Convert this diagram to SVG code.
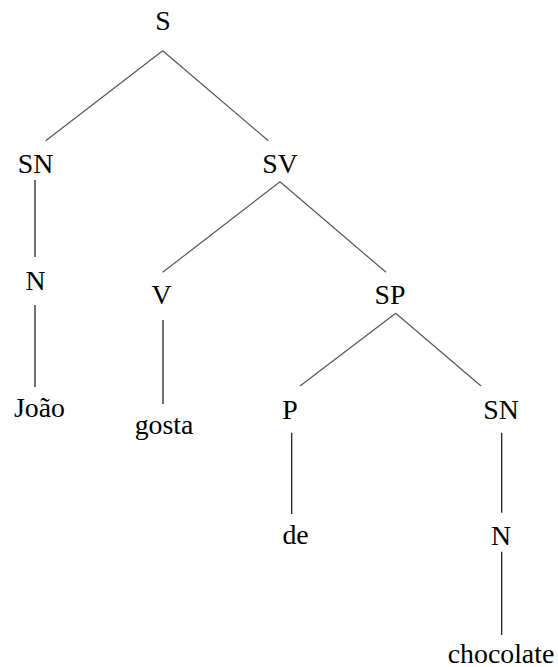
<svg xmlns="http://www.w3.org/2000/svg" width="558" height="667" viewBox="0 0 558 667">
  <style>
    .lbl { font-family: "Liberation Serif", "Times New Roman", serif; font-size: 26.5px; fill: #000; text-anchor: middle; }
    .diag { stroke: #555; stroke-width: 1.2; fill: none; }
    .vert { stroke: #111; stroke-width: 1.2; fill: none; }
  </style>
  <rect width="558" height="667" fill="#fff"/>

  <!-- tree branches -->
  <g id="edges">
    <line class="diag" x1="162.7" y1="50.7" x2="45.7" y2="140.7"/>
    <line class="diag" x1="162.7" y1="50.7" x2="268.3" y2="140.7"/>
    <line class="vert" x1="35" y1="180" x2="35" y2="257"/>
    <line class="vert" x1="35" y1="305" x2="35" y2="387"/>
    <line class="diag" x1="280" y1="181.7" x2="162.7" y2="272.3"/>
    <line class="diag" x1="280" y1="181.7" x2="386" y2="272.3"/>
    <line class="vert" x1="163" y1="320" x2="163" y2="404"/>
    <line class="diag" x1="395.7" y1="313.3" x2="300" y2="386"/>
    <line class="diag" x1="395.7" y1="313.3" x2="481" y2="386"/>
    <line class="vert" x1="291.7" y1="432.7" x2="291.7" y2="514"/>
    <line class="vert" x1="501.7" y1="432.7" x2="501.7" y2="512.7"/>
    <line class="vert" x1="501.7" y1="551.7" x2="501.7" y2="635"/>
  </g>

  <!-- constituent labels (glyphs slightly widened) -->
  <g id="S"><text class="lbl" transform="matrix(1.05 0 0 1 163 30)">S</text></g>
  <g id="SN1"><text class="lbl" transform="matrix(1.05 0 0 1 35.5 172.5)">SN</text></g>
  <g id="SV"><text class="lbl" transform="matrix(1.05 0 0 1 280 172.5)">SV</text></g>
  <g id="N1"><text class="lbl" transform="matrix(1.05 0 0 1 35.5 290)">N</text></g>
  <g id="Joao"><text class="lbl" transform="matrix(1.05 0 0 1 39.5 416.5)">João</text></g>
  <g id="V"><text class="lbl" transform="matrix(1.05 0 0 1 161.5 304)">V</text></g>
  <g id="gosta"><text class="lbl" transform="matrix(1.05 0 0 1 164 434)">gosta</text></g>
  <g id="SP"><text class="lbl" transform="matrix(1.05 0 0 1 390 304)">SP</text></g>
  <g id="P"><text class="lbl" transform="matrix(1.05 0 0 1 290 419)">P</text></g>
  <g id="SN2"><text class="lbl" transform="matrix(1.05 0 0 1 501 419)">SN</text></g>
  <g id="de"><text class="lbl" transform="matrix(1.05 0 0 1 295.5 544)">de</text></g>
  <g id="N2"><text class="lbl" transform="matrix(1.05 0 0 1 501 545)">N</text></g>
  <g id="chocolate"><text class="lbl" transform="matrix(1.05 0 0 1 501 662.5)">chocolate</text></g>
</svg>
